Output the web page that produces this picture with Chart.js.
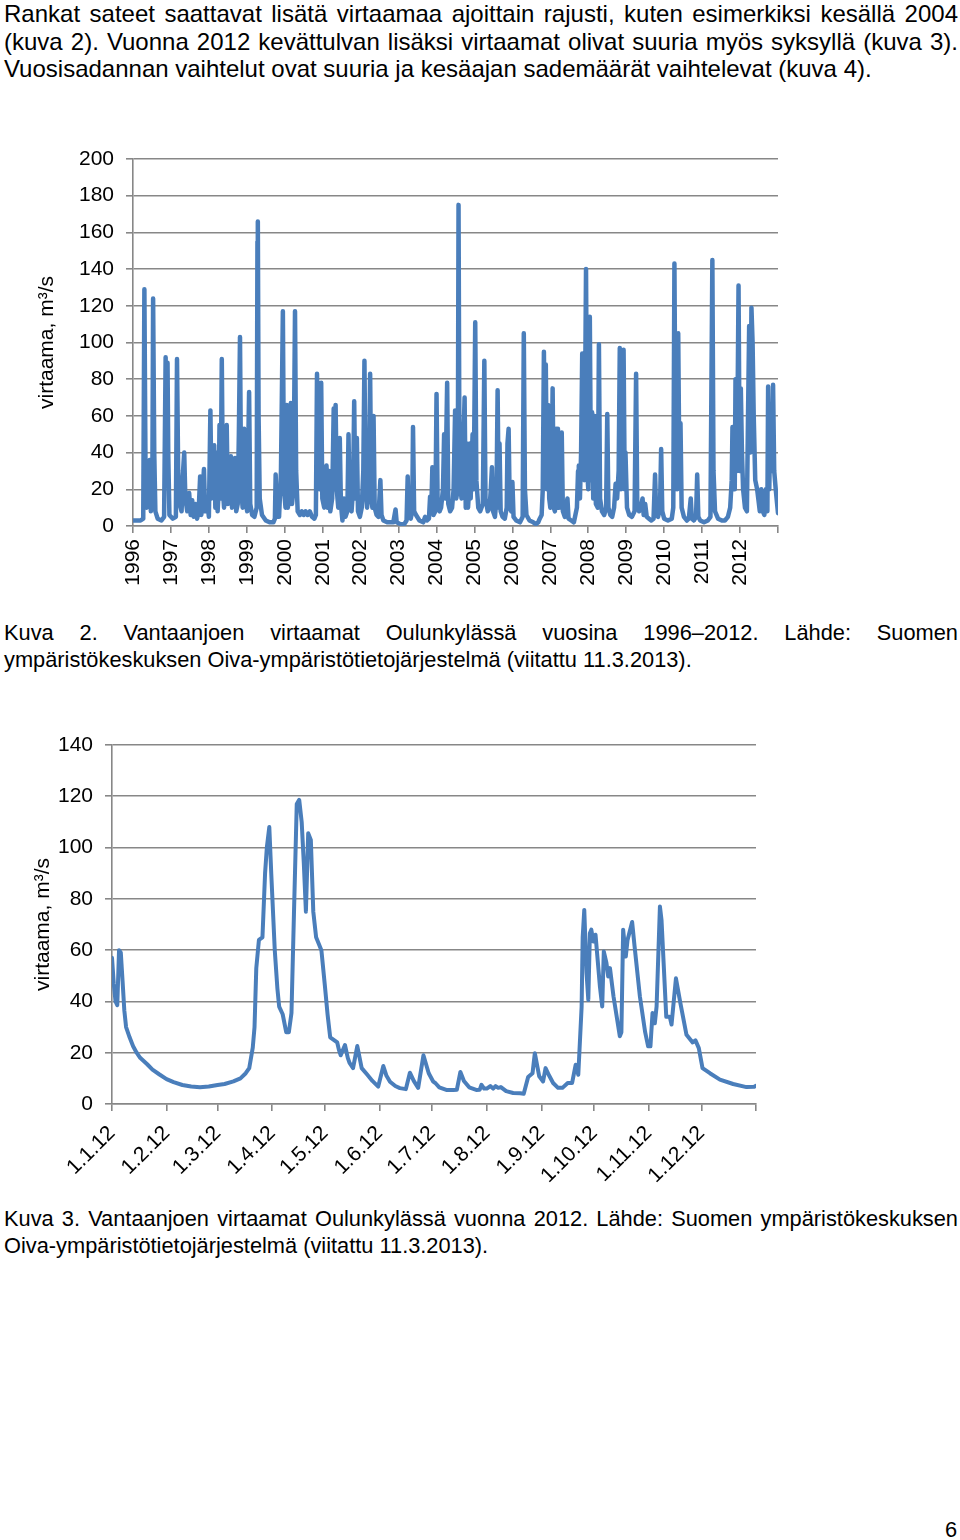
<!DOCTYPE html>
<html lang="fi">
<head>
  <meta charset="UTF-8">
  <title>Vantaanjoen virtaamat Oulunkylässä</title>
  <script src="https://cdn.jsdelivr.net/npm/chart.js"></script>
  <style>
    /* --- PAGE --- */
    body {
      margin: 0;
      width: 960px;
      height: 1540px;
      position: relative;
      overflow: hidden;
      background: #fff;
      color: #000;
      font-family: "Liberation Sans", Arial, sans-serif;
      font-size: 21.8px;
      line-height: 27px;
    }
    .txt { position: absolute; left: 4px; width: 954px; }
    .txt div { text-align: justify; text-align-last: justify; }
    .txt div.last { text-align-last: left; }
    .intro { font-size: 24px; line-height: 27.5px; }
    .pageno { position: absolute; right: 3px; top: 1516px; }
    canvas { position: absolute; left: 0; }
  </style>
</head>
<body>

  <div class="txt intro" style="top:0px;">
    <div>Rankat sateet saattavat lisätä virtaamaa ajoittain rajusti, kuten esimerkiksi kesällä 2004</div>
    <div>(kuva 2). Vuonna 2012 kevättulvan lisäksi virtaamat olivat suuria myös syksyllä (kuva 3).</div>
    <div class="last">Vuosisadannan vaihtelut ovat suuria ja kesäajan sademäärät vaihtelevat (kuva 4).</div>
  </div>

  <!-- Kuva 2 -->
  <canvas id="flowYears" width="800" height="460" style="top:140px;"></canvas>

  <div class="txt" style="top:619px;">
    <div>Kuva 2. Vantaanjoen virtaamat Oulunkylässä vuosina 1996–2012. Lähde: Suomen</div>
    <div class="last">ympäristökeskuksen Oiva-ympäristötietojärjestelmä (viitattu 11.3.2013).</div>
  </div>

  <!-- Kuva 3 -->
  <canvas id="flow2012" width="780" height="470" style="top:725px;"></canvas>

  <div class="txt" style="top:1205px;">
    <div>Kuva 3. Vantaanjoen virtaamat Oulunkylässä vuonna 2012. Lähde: Suomen ympäristökeskuksen</div>
    <div class="last">Oiva-ympäristötietojärjestelmä (viitattu 11.3.2013).</div>
  </div>

  <div class="pageno">6</div>

  <script>
    // ---- data: Kuva 2, [vuosi, virtaama m3/s] ----
    const yearTicks  = [1996,1997,1998,1999,2000,2001,2002,2003,2004,2005,2006,2007,2008,2009,2010,2011,2012,2013];
    const yearLabels = ['1996','1997','1998','1999','2000','2001','2002','2003','2004','2005','2006','2007','2008','2009','2010','2011','2012',''];
    const flowAll = [
      [1996.00,3],[1996.20,3],[1996.27,4],[1996.30,129],[1996.33,30],[1996.36,10],[1996.40,12],[1996.44,36],[1996.47,8],
      [1996.51,20],[1996.53,124],[1996.56,40],[1996.59,8],[1996.65,4],[1996.75,3],[1996.82,5],[1996.86,92],[1996.89,40],
      [1996.91,89],[1996.93,38],[1996.96,6],[1997.05,4],[1997.13,5],[1997.16,91],[1997.19,30],[1997.23,12],[1997.28,8],
      [1997.32,30],[1997.35,40],[1997.38,15],[1997.43,8],[1997.48,18],[1997.52,6],[1997.56,14],[1997.60,5],[1997.65,12],
      [1997.69,4],[1997.73,8],[1997.77,27],[1997.80,6],[1997.84,20],[1997.87,31],[1997.90,8],[1997.95,15],[1998.00,5],
      [1998.04,63],[1998.07,15],[1998.10,30],[1998.14,44],[1998.17,10],[1998.20,40],[1998.23,8],[1998.26,20],[1998.28,55],
      [1998.31,15],[1998.34,91],[1998.37,20],[1998.40,10],[1998.44,25],[1998.47,55],[1998.50,12],[1998.55,20],[1998.58,38],
      [1998.61,10],[1998.66,15],[1998.69,37],[1998.72,8],[1998.76,12],[1998.79,50],[1998.82,103],[1998.85,20],[1998.89,10],
      [1998.93,53],[1998.96,15],[1999.01,8],[1999.06,73],[1999.09,12],[1999.14,6],[1999.20,5],[1999.26,10],[1999.28,155],
      [1999.29,166],[1999.31,60],[1999.34,15],[1999.40,6],[1999.50,3],[1999.60,2],[1999.70,2],[1999.74,4],[1999.76,28],
      [1999.79,5],[1999.85,5],[1999.90,30],[1999.95,117],[1999.98,20],[2000.02,10],[2000.05,66],[2000.08,10],[2000.12,15],
      [2000.16,67],[2000.19,12],[2000.23,20],[2000.27,117],[2000.30,30],[2000.34,8],[2000.40,6],[2000.45,8],[2000.50,6],
      [2000.55,8],[2000.60,6],[2000.66,8],[2000.72,5],[2000.78,4],[2000.82,6],[2000.85,83],[2000.88,30],[2000.92,20],
      [2000.96,78],[2000.99,15],[2001.04,10],[2001.08,20],[2001.10,33],[2001.13,10],[2001.17,30],[2001.20,8],[2001.25,15],
      [2001.29,64],[2001.31,20],[2001.34,66],[2001.37,20],[2001.41,10],[2001.45,48],[2001.48,12],[2001.52,3],[2001.56,15],
      [2001.60,5],[2001.65,8],[2001.68,50],[2001.71,10],[2001.76,8],[2001.80,20],[2001.83,68],[2001.86,15],[2001.90,48],
      [2001.93,8],[2001.98,5],[2002.03,10],[2002.07,30],[2002.10,90],[2002.13,20],[2002.17,10],[2002.22,25],[2002.25,83],
      [2002.28,15],[2002.31,10],[2002.34,60],[2002.37,10],[2002.42,6],[2002.47,5],[2002.52,25],[2002.55,6],[2002.60,3],
      [2002.70,2],[2002.80,2],[2002.86,2],[2002.92,9],[2002.95,2],[2003.05,1],[2003.15,1],[2003.21,3],[2003.24,27],
      [2003.27,5],[2003.32,4],[2003.36,8],[2003.38,54],[2003.41,8],[2003.46,6],[2003.55,3],[2003.65,2],[2003.70,5],
      [2003.75,3],[2003.80,4],[2003.83,16],[2003.86,8],[2003.89,32],[2003.92,6],[2003.97,8],[2004.00,72],[2004.03,10],
      [2004.08,8],[2004.12,10],[2004.17,20],[2004.20,50],[2004.23,15],[2004.28,78],[2004.31,12],[2004.36,8],[2004.41,10],
      [2004.45,20],[2004.49,63],[2004.52,15],[2004.56,20],[2004.58,175],[2004.60,60],[2004.63,20],[2004.66,15],[2004.70,40],
      [2004.74,70],[2004.77,10],[2004.80,45],[2004.83,10],[2004.86,20],[2004.88,45],[2004.90,15],[2004.95,50],[2004.98,20],
      [2005.02,111],[2005.05,25],[2005.10,10],[2005.15,8],[2005.22,12],[2005.26,90],[2005.29,15],[2005.35,8],[2005.40,10],
      [2005.43,20],[2005.46,32],[2005.49,8],[2005.54,5],[2005.58,15],[2005.61,74],[2005.64,10],[2005.66,45],[2005.69,8],
      [2005.74,5],[2005.80,4],[2005.85,10],[2005.87,45],[2005.90,53],[2005.93,10],[2005.97,8],[2006.00,24],[2006.03,5],
      [2006.10,3],[2006.20,2],[2006.27,5],[2006.30,105],[2006.33,20],[2006.37,6],[2006.45,3],[2006.55,2],[2006.62,1],
      [2006.68,2],[2006.72,4],[2006.77,6],[2006.80,20],[2006.83,95],[2006.86,30],[2006.88,88],[2006.91,20],[2006.94,66],
      [2006.97,15],[2007.00,10],[2007.03,20],[2007.06,75],[2007.09,10],[2007.12,8],[2007.15,53],[2007.18,10],[2007.20,53],
      [2007.23,10],[2007.27,15],[2007.30,51],[2007.33,8],[2007.38,5],[2007.45,15],[2007.48,4],[2007.55,3],[2007.62,2],
      [2007.66,6],[2007.70,10],[2007.73,30],[2007.75,33],[2007.78,15],[2007.81,40],[2007.84,94],[2007.87,30],[2007.90,25],
      [2007.94,140],[2007.97,30],[2008.00,20],[2008.04,114],[2008.07,25],[2008.10,62],[2008.13,15],[2008.17,60],[2008.20,12],
      [2008.25,10],[2008.28,99],[2008.31,15],[2008.36,8],[2008.42,6],[2008.47,10],[2008.50,61],[2008.53,10],[2008.58,6],
      [2008.63,5],[2008.68,10],[2008.72,23],[2008.76,15],[2008.80,30],[2008.83,97],[2008.86,20],[2008.90,30],[2008.93,96],
      [2008.96,20],[2008.98,40],[2009.02,10],[2009.08,6],[2009.15,5],[2009.22,8],[2009.26,83],[2009.29,12],[2009.34,8],
      [2009.38,10],[2009.43,15],[2009.46,6],[2009.50,12],[2009.54,5],[2009.60,4],[2009.66,3],[2009.72,4],[2009.76,28],
      [2009.79,6],[2009.84,5],[2009.89,10],[2009.92,42],[2009.95,8],[2010.00,4],[2010.10,3],[2010.20,4],[2010.24,10],
      [2010.27,143],[2010.30,40],[2010.34,20],[2010.37,105],[2010.40,30],[2010.43,56],[2010.46,10],[2010.52,5],[2010.60,3],
      [2010.65,4],[2010.70,15],[2010.73,4],[2010.78,3],[2010.84,5],[2010.87,28],[2010.90,5],[2010.95,3],[2011.05,2],
      [2011.15,3],[2011.22,5],[2011.27,145],[2011.30,30],[2011.34,8],[2011.42,4],[2011.52,3],[2011.60,3],[2011.68,5],
      [2011.74,10],[2011.78,25],[2011.80,54],[2011.83,20],[2011.86,20],[2011.88,80],[2011.92,30],[2011.96,131],[2011.99,30],
      [2012.02,75],[2012.05,40],[2012.08,20],[2012.13,10],[2012.18,8],[2012.21,60],[2012.24,109],[2012.27,40],[2012.30,119],
      [2012.33,100],[2012.36,60],[2012.40,25],[2012.45,20],[2012.48,15],[2012.52,8],[2012.56,20],[2012.60,8],[2012.64,6],
      [2012.68,20],[2012.72,8],[2012.74,76],[2012.77,20],[2012.80,60],[2012.84,30],[2012.87,77],[2012.90,30],[2012.94,20],
      [2013.00,7]
    ];

    // ---- data: Kuva 3, [päivä vuoden alusta, virtaama m3/s] ----
    const monthStarts = [0,31,60,91,121,152,182,213,244,274,305,335,366];
    const monthLabels = ['1.1.12','1.2.12','1.3.12','1.4.12','1.5.12','1.6.12','1.7.12','1.8.12','1.9.12','1.10.12','1.11.12','1.12.12',''];
    const flow2012 = [
      [0,57],[1,47],[2,40],[3,38.5],[4,60],[5,59],[6,48],[7,36.5],[8,30],[10,26],[12,22.5],[14,20],[16,18],[20,15.5],
      [23,13.4],[27,11.5],[31,9.7],[35,8.5],[40,7.4],[45,6.8],[50,6.5],[55,6.8],[60,7.4],[64,7.8],[69,8.8],[73,10],
      [76,12],[78,14],[80,22],[81,30],[82,53],[83.5,64],[85.5,65],[87,90],[88,100],[89.4,108],[90.5,90],[92.5,60],
      [94,45],[95,38],[97,35],[99,28],[100.5,28],[102,35.5],[103.4,74],[105,117],[106.4,118.6],[107.8,110],[109,94],
      [110.2,75],[111.5,105.6],[113,103],[114.4,75],[116,65],[117.5,62.5],[119,60],[121,46],[122.5,35],[124,26],[126,25],
      [128,24],[129,21],[130,19],[132.4,23],[134,18],[135,16],[137,14],[139.4,22.6],[141.9,14],[145,11.5],[148,9],
      [151.3,6.8],[154.2,14.8],[156,11],[158,8.7],[161,7],[163.6,6.2],[167,5.8],[169.3,12.2],[171.5,9],[174,6.3],
      [177,19],[180,12],[182.6,8.7],[184,8],[186,6.5],[190,5.5],[194,5.5],[196,5.6],[198,12.5],[200,9],[203,6.5],
      [207,5.5],[209,5.6],[210,7.5],[211.5,6],[213,6],[215,7],[216.6,6],[218,7],[219.5,6.3],[221,6.6],[224,5],
      [228,4.3],[232,4.2],[234,4],[236.5,10.5],[239,12],[240.3,19.8],[242.8,10.8],[245,8.8],[246.4,14],[248.5,11],
      [250.7,8.2],[253.5,6.3],[256,6.3],[259,8.2],[261.5,8.2],[263.5,15.3],[265,11.4],[266.9,38],[267.5,65],[268.4,75.7],
      [269.7,51],[270.7,40.6],[271.6,66.6],[272.4,68],[273.5,63.4],[274.8,66],[277.3,45.8],[278.6,38],[279.5,59.5],
      [281,55],[282,49.7],[283,53],[285,42],[288.6,26.4],[289.5,28],[290.5,68],[292,57.5],[293,64],[295.6,71],
      [297,61.4],[300,42],[303,28],[304.7,22.5],[306,22.5],[307.2,35.5],[308.5,31.5],[309.5,38],[311.4,77],[312.3,71.8],
      [315,34],[317,34],[318,31],[320.5,49],[323,39.4],[326.5,27],[330,24],[331.6,24.8],[333.5,21.8],[335.6,14],
      [339.8,12],[345.5,9.5],[353,7.8],[360.6,6.6],[365,6.7],[366,7.1]
    ];

    const BLUE = '#4a7ebb';
    const GRID = '#878787';
    Chart.defaults.font.family = '"Liberation Sans", Arial, sans-serif';
    Chart.defaults.font.size = 21;
    Chart.defaults.color = '#000';

    function lineSet(points, width) {
      return {
        data: points.map(p => ({ x: p[0], y: p[1] })),
        borderColor: BLUE,
        borderWidth: width,
        borderJoinStyle: 'round',
        borderCapStyle: 'round',
        pointRadius: 0,
        tension: 0,
        fill: false
      };
    }

    // fixed axis boxes: no extra label overhang padding, so layout.padding decides the plot edges
    function fixX(h) {
      return s => { s.height = h; s.paddingLeft = 0; s.paddingRight = 0; };
    }
    function fixY(w) {
      return s => { s.width = w; s.paddingTop = 0; s.paddingBottom = 0; };
    }

    // nudge the layout padding until the plot area sits where wanted
    function placeArea(chart, want) {
      const p = chart.config.options.layout.padding;
      for (let k = 0; k < 3; k++) {
        const a = chart.chartArea;
        p.top += want.top - a.top;
        p.left += want.left - a.left;
        p.right += a.right - want.right;
        p.bottom += a.bottom - want.bottom;
        chart.update('none');
      }
    }

    // Kuva 2
    const c1 = new Chart(document.getElementById('flowYears'), {
      type: 'line',
      data: { datasets: [lineSet(flowAll, 4.5)] },
      options: {
        responsive: false,
        animation: false,
        layout: { padding: { top: 19, right: 22, left: 0, bottom: 0 } },
        plugins: { legend: { display: false }, tooltip: { enabled: false } },
        scales: {
          x: {
            type: 'linear', min: 1996, max: 2013,
            afterBuildTicks: s => { s.ticks = yearTicks.map(v => ({ value: v })); },
            afterFit: fixX(74),
            ticks: { autoSkip: false, minRotation: 90, maxRotation: 90, padding: 6,
                     callback: (v, i) => yearLabels[i] },
            grid: { drawOnChartArea: false, color: GRID, lineWidth: 1.6, tickLength: 7 },
            border: { color: GRID, width: 1.6 }
          },
          y: {
            min: 0, max: 200,
            afterFit: fixY(133),
            ticks: { stepSize: 20, padding: 12 },
            grid: { color: GRID, lineWidth: 1.6, tickLength: 7 },
            border: { color: GRID, width: 1.6 },
            title: { display: true, text: 'virtaama, m³/s', padding: { top: 35, bottom: 0 } }
          }
        }
      }
    });
    placeArea(c1, { left: 133, top: 19, right: 778, bottom: 386 });

    // Kuva 3
    const c2 = new Chart(document.getElementById('flow2012'), {
      type: 'line',
      data: { datasets: [lineSet(flow2012, 4)] },
      options: {
        responsive: false,
        animation: false,
        layout: { padding: { top: 20, right: 24, left: 0, bottom: 0 } },
        plugins: { legend: { display: false }, tooltip: { enabled: false } },
        scales: {
          x: {
            type: 'linear', min: 0, max: 366,
            afterBuildTicks: s => { s.ticks = monthStarts.map(v => ({ value: v })); },
            afterFit: fixX(91),
            ticks: { autoSkip: false, minRotation: 45, maxRotation: 45, padding: 10,
                     callback: (v, i) => monthLabels[i] },
            grid: { drawOnChartArea: false, color: GRID, lineWidth: 1.6, tickLength: 7 },
            border: { color: GRID, width: 1.6 }
          },
          y: {
            min: 0, max: 140,
            afterFit: fixY(112),
            ticks: { stepSize: 20, padding: 12 },
            grid: { color: GRID, lineWidth: 1.6, tickLength: 7 },
            border: { color: GRID, width: 1.6 },
            title: { display: true, text: 'virtaama, m³/s', padding: { top: 31, bottom: 0 } }
          }
        }
      }
    });
    placeArea(c2, { left: 112, top: 20, right: 756, bottom: 379 });
  </script>
</body>
</html>
